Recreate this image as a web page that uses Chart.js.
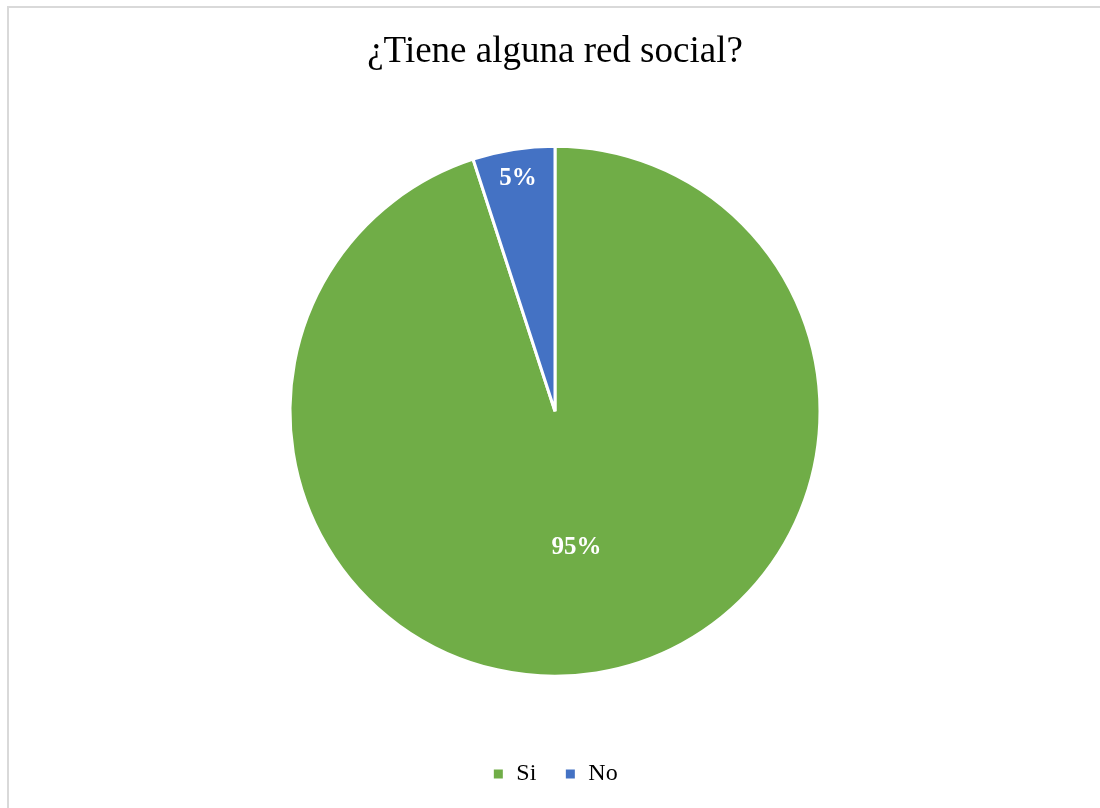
<!DOCTYPE html>
<html lang="es">
  <head>
    <meta charset="UTF-8" />
    <title>¿Tiene alguna red social?</title>
    <style>
      body {
        margin: 0;
        background: #fff;
      }
      .frame {
        position: absolute;
        left: 7px;
        top: 6px;
        width: 1200px;
        height: 900px;
        border-left: 2px solid #d9d9d9;
        border-top: 2px solid #d9d9d9;
      }
      .container {
        position: absolute;
        left: 0;
        top: 0;
        width: 1100px;
        height: 808px;
      }
    </style>
  </head>
  <body>
    <div class="frame"></div>
    <div class="container">
      <canvas id="myChart" width="1100" height="808"></canvas>
    </div>
  </body>
  <script src="https://cdn.jsdelivr.net/npm/chart.js"></script>
  <script>
    const labels = ['Si', 'No'];
    const values = [95, 5];
    const colors = ['#70AD47', '#4472C4'];
    const title = '¿Tiene alguna red social?';

    // draws the percentage inside each slice
    const sliceLabels = {
      id: 'sliceLabels',
      afterDatasetsDraw(chart, args, opts) {
        const { ctx } = chart;
        const meta = chart.getDatasetMeta(0);
        const total = values.reduce((a, b) => a + b, 0);
        ctx.save();
        ctx.fillStyle = '#fff';
        ctx.font = 'bold 25px "Liberation Serif", "Times New Roman", serif';
        ctx.textAlign = 'center';
        ctx.textBaseline = 'middle';
        meta.data.forEach((arc, i) => {
          const p = arc.getProps(['x', 'y', 'startAngle', 'endAngle', 'outerRadius']);
          const mid = (p.startAngle + p.endAngle) / 2;
          const r = p.outerRadius * opts.offsets[i];
          const pct = Math.round((values[i] / total) * 100) + '%';
          ctx.fillText(pct, p.x + Math.cos(mid) * r, p.y + Math.sin(mid) * r);
        });
        ctx.restore();
      },
    };

    new Chart(document.getElementById('myChart'), {
      type: 'pie',
      data: {
        labels: labels,
        datasets: [
          {
            data: values,
            backgroundColor: colors,
            borderColor: '#fff',
            borderWidth: 3,
            radius: 265,
          },
        ],
      },
      options: {
        responsive: false,
        animation: false,
        layout: {
          padding: { left: 10, top: 0, bottom: 12 },
        },
        plugins: {
          title: {
            display: true,
            text: title,
            color: '#000',
            font: { family: '"Liberation Serif", "Times New Roman", serif', size: 37, weight: 'normal' },
            padding: { top: 30, bottom: 14 },
          },
          legend: {
            position: 'bottom',
            labels: {
              color: '#000',
              boxWidth: 12,
              boxHeight: 12,
              padding: 28,
              font: { family: '"Liberation Serif", "Times New Roman", serif', size: 24 },
            },
          },
          tooltip: { enabled: false },
          sliceLabels: { offsets: [0.52, 0.89] },
        },
      },
      plugins: [sliceLabels],
    });
  </script>
</html>
